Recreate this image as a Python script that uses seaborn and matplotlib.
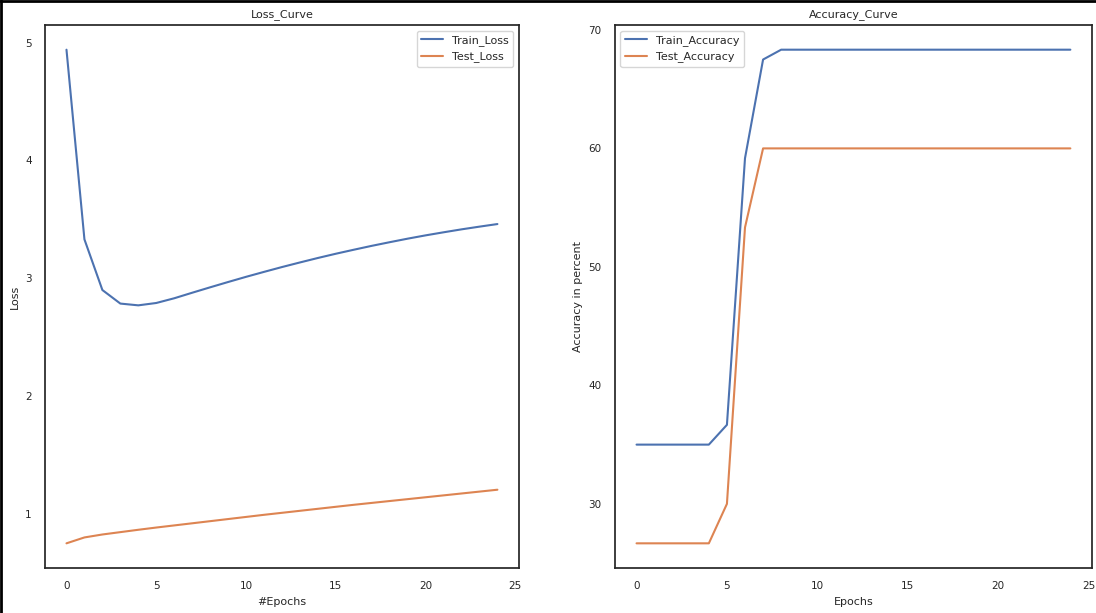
import numpy as np
import pandas as pd
import matplotlib
matplotlib.use("Agg")
import matplotlib.pyplot as plt
import seaborn as sns
from matplotlib.lines import Line2D

epochs = list(range(25))
train_loss = [4.94, 3.33, 2.90, 2.785, 2.77, 2.79, 2.83, 2.877, 2.923, 2.968, 3.012,
              3.054, 3.095, 3.134, 3.172, 3.208, 3.242, 3.275, 3.306, 3.336, 3.364,
              3.39, 3.415, 3.438, 3.46]
test_loss = [0.75, 0.80, 0.825, 0.845, 0.865, 0.884, 0.902, 0.92, 0.938, 0.956,
             0.974, 0.992, 1.009, 1.026, 1.043, 1.06, 1.077, 1.093, 1.109, 1.125,
             1.141, 1.157, 1.173, 1.189, 1.205]
train_acc = [35.0, 35.0, 35.0, 35.0, 35.0, 36.67, 59.17, 67.5] + [68.33] * 17
test_acc = [26.67, 26.67, 26.67, 26.67, 26.67, 30.0, 53.33] + [60.0] * 18

sns.set_theme(style="white", palette="deep")
plt.rcParams.update({
    "font.family": ["DejaVu Sans"],
    "font.size": 8,
    "axes.titlesize": 8,
    "axes.labelsize": 8,
    "xtick.labelsize": 7.5,
    "ytick.labelsize": 7.5,
    "legend.fontsize": 8,
    "axes.edgecolor": "0.15",
    "axes.linewidth": 1.25,
})

loss_df = pd.DataFrame({"epoch": epochs * 2,
                        "value": train_loss + test_loss,
                        "series": ["Train_Loss"] * 25 + ["Test_Loss"] * 25})
acc_df = pd.DataFrame({"epoch": epochs * 2,
                       "value": train_acc + test_acc,
                       "series": ["Train_Accuracy"] * 25 + ["Test_Accuracy"] * 25})

fig = plt.figure(figsize=(10.96, 6.13), dpi=100)
ax1 = fig.add_axes([0.041, 0.0734, 0.4325, 0.8858])
ax2 = fig.add_axes([0.561, 0.0734, 0.4354, 0.8858])

sns.lineplot(data=loss_df, x="epoch", y="value", hue="series", ax=ax1, linewidth=1.5)
sns.lineplot(data=acc_df, x="epoch", y="value", hue="series", ax=ax2, linewidth=1.5)

ax1.set_title("Loss_Curve")
ax1.set_xlabel("#Epochs")
ax1.set_ylabel("Loss")
ax1.legend(loc="upper right", title=None)
ax1.set_xticks([0, 5, 10, 15, 20, 25])
ax1.set_yticks([1, 2, 3, 4, 5])

ax2.set_title("Accuracy_Curve")
ax2.set_xlabel("Epochs")
ax2.set_ylabel("Accuracy in percent")
ax2.legend(loc="upper left", title=None)
ax2.set_xticks([0, 5, 10, 15, 20, 25])
ax2.set_yticks([30, 40, 50, 60, 70])

fig.add_artist(Line2D([0, 1], [0.999, 0.999], transform=fig.transFigure, color="black", linewidth=2))
fig.add_artist(Line2D([0.001, 0.001], [0, 1], transform=fig.transFigure, color="black", linewidth=2))

fig.savefig("out.png", dpi=100)
